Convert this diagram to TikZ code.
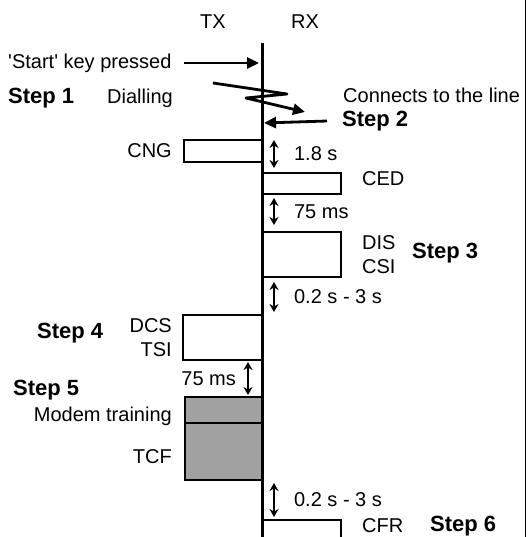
\documentclass[tikz,border=0pt]{standalone}
\usepackage{fontspec}
\setmainfont{Liberation Sans}
\usetikzlibrary{arrows.meta,positioning}
\tikzset{
  axisline/.style={line width=3pt},
  sigbox/.style={draw=black,line width=2.5pt,inner sep=0pt,outer sep=0pt},
  graybox/.style={sigbox,fill=black!37},
  lbl/.style={font=\fontsize{20}{24}\selectfont,inner sep=0pt},
  steplbl/.style={font=\fontsize{22}{24}\selectfont\bfseries,inner sep=0pt},
  evarr/.style={-{Triangle[length=12pt,width=11pt]},line width=2.8pt},
  gaparr/.style={{Stealth[length=8pt,width=9pt]}-{Stealth[length=8pt,width=9pt]},line width=2.2pt}
}

\begin{document}
\begin{tikzpicture}[x=1pt,y=-1pt]
  \clip (0,0) rectangle (528,537);
  \fill[white] (0,0) rectangle (528,537);
  % frame edge on the right
  \draw[line width=1.4pt] (525.5,0) -- (525.5,537);

  % time axis
  \node[lbl] (tx) at (213,22) {TX};
  \node[lbl] (rx) at (305,22) {RX};
  \coordinate (axtop) at (262,43);
  \coordinate (axbot) at (262,537);
  \draw[axisline] (axtop) -- (axbot);

  % steps 1 and 2: start, dialling, line
  \node[lbl,anchor=west] (start) at (8,63) {\textquotesingle Start\textquotesingle\ key pressed};
  \coordinate (starthit) at (259,63);
  \draw[evarr] ([xshift=12]start.east) -- (starthit);
  \node[steplbl,anchor=west] (step1) at (8,98) {Step 1};
  \node[lbl,anchor=west] (dial) at (107,98) {Dialling};
  \coordinate (z0) at (213,83);
  \coordinate (z1) at (287,94);
  \coordinate (z2) at (246,98);
  \coordinate (z3) at (305,112);
  \draw[evarr,line join=round] (z0) -- (z1) -- (z2) -- (z3);
  \node[lbl,anchor=west] (conn) at (343,95) {Connects to the line};
  \node[steplbl,anchor=west] (step2) at (342,121) {Step 2};
  \coordinate (linehit) at (264,123);
  \draw[evarr] ([xshift=-15]step2.west) -- (linehit);

  % signal boxes, TX side left of the axis, RX side right of it
  \node[sigbox,minimum width=78,minimum height=22,anchor=north east] (cng) at (262,140) {};
  \node[lbl,left=12 of cng] (cnglbl) {CNG};
  \node[sigbox,minimum width=79,minimum height=21,anchor=north west] (ced) at (262,173) {};
  \node[lbl,anchor=west] (cedlbl) at (362,179) {CED};
  \node[sigbox,minimum width=79,minimum height=45,anchor=north west] (dis) at (262,232) {};
  \node[lbl,align=left,right=21 of dis] (dislbl) {DIS\\CSI};
  \node[steplbl,anchor=west] (step3) at (412,253) {Step 3};
  \node[sigbox,minimum width=79,minimum height=45,anchor=north east] (dcs) at (262,315) {};
  \node[lbl,align=right,left=11 of dcs] (dcslbl) {DCS\\TSI};
  \node[steplbl,anchor=west] (step4) at (37,333) {Step 4};
  \node[steplbl,anchor=west] (step5) at (13,390) {Step 5};
  \node[graybox,minimum width=77,minimum height=26,anchor=north east] (modem) at (262,397) {};
  \node[graybox,minimum width=77,minimum height=57,anchor=north east] (tcf) at (262,423) {};
  \node[lbl,anchor=east] (modemlbl) at (172,416) {Modem training};
  \node[lbl,anchor=east] (tcflbl) at (172,457) {TCF};
  \node[sigbox,minimum width=79,minimum height=30,anchor=north west] (cfr) at (262,520) {};
  \node[lbl,anchor=west] (cfrlbl) at (362,526) {CFR};
  \node[steplbl,anchor=west] (step6) at (430,526) {Step 6};

  % gaps between signals
  \foreach \n/\x/\ya/\yb/\side/\d/\lab in {1/274/140/168/right/19/1.8 s,
      2/274/198/225/right/19/75 ms, 3/274/282/312/right/19/0.2 s - 3 s,
      4/248/362/395/left/11/75 ms, 5/274/483/517/right/19/0.2 s - 3 s} {
    \coordinate (g\n a) at (\x,\ya);
    \coordinate (g\n b) at (\x,\yb);
    \draw[gaparr] (g\n a) -- (g\n b) node[lbl,midway,\side=\d] (g\n lbl) {\lab};
  }
\end{tikzpicture}
\end{document}
